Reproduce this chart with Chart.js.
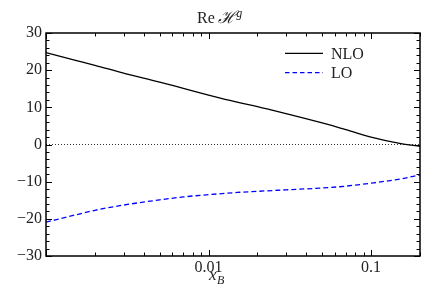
<!DOCTYPE html>
<html>
<head>
<meta charset="utf-8">
<script src="https://cdn.jsdelivr.net/npm/chart.js@4.4.0/dist/chart.umd.min.js"></script>
<style>
  html, body { margin: 0; padding: 0; background: #fff; }
  #wrap { width: 442px; height: 290px; }
</style>
</head>
<body>
<div id="wrap"><canvas id="c" width="442" height="290"></canvas></div>
<script>
// ---- data ----
const xB = [0.001, 0.0015, 0.002, 0.003, 0.005, 0.007, 0.01, 0.015, 0.02, 0.03, 0.05, 0.07, 0.1, 0.15, 0.2];
const nloValues = [24.7, 22.7, 21.3, 19.2, 16.8, 15.1, 13.3, 11.4, 10.2, 8.3, 5.8, 4.0, 2.0, 0.3, -0.5];
const loValues = [-20.9, -19.0, -17.7, -16.3, -14.9, -14.1, -13.5, -12.9, -12.6, -12.2, -11.7, -11.2, -10.4, -9.3, -8.2];
const xTickLabels = [0.01, 0.1];
const yTickValues = [-30, -20, -10, 0, 10, 20, 30];
const seriesNames = ['NLO', 'LO'];

const SERIF = '"Liberation Serif", "DejaVu Serif", serif';
const TXT = '#222';

function pts(ys) { return xB.map((x, i) => ({ x: x, y: ys[i] })); }

const framePlugin = {
  id: 'frame',
  afterDraw(chart) {
    const ctx = chart.ctx, a = chart.chartArea;
    const xs = chart.scales.x, ys = chart.scales.y;
    ctx.save();
    // zero line (dotted)
    ctx.strokeStyle = '#000';
    ctx.lineWidth = 0.8;
    ctx.setLineDash([1, 2]);
    const y0 = ys.getPixelForValue(0);
    ctx.beginPath(); ctx.moveTo(a.left, y0); ctx.lineTo(a.right, y0); ctx.stroke();
    ctx.setLineDash([]);
    // ticks x (log minors)
    ctx.lineWidth = 1;
    const decades = [0.001, 0.01, 0.1];
    decades.forEach(d => {
      for (let m = 1; m <= 9; m++) {
        const v = d * m;
        if (v < xs.min - 1e-12 || v > xs.max + 1e-12) continue;
        const px = Math.round(xs.getPixelForValue(v)) + 0.5;
        const len = m === 1 ? 6 : 3.5;
        ctx.beginPath();
        ctx.moveTo(px, a.bottom); ctx.lineTo(px, a.bottom - len);
        ctx.moveTo(px, a.top); ctx.lineTo(px, a.top + len);
        ctx.stroke();
      }
    });
    // ticks y
    for (let v = -30; v <= 30; v += 2) {
      const py = Math.round(ys.getPixelForValue(v)) + 0.5;
      const len = (v % 10 === 0) ? 6 : 3.5;
      ctx.beginPath();
      ctx.moveTo(a.left, py); ctx.lineTo(a.left + len, py);
      ctx.moveTo(a.right, py); ctx.lineTo(a.right - len, py);
      ctx.stroke();
    }
    // frame
    ctx.lineWidth = 1.5;
    ctx.strokeRect(a.left, a.top, a.right - a.left, a.bottom - a.top);

    // legend
    const lx0 = a.left + 239, lx1 = a.left + 277, tx = a.left + 285;
    const ly1 = 53.3, ly2 = 72.7;
    ctx.lineWidth = 1.3;
    ctx.strokeStyle = '#000';
    ctx.beginPath(); ctx.moveTo(lx0, ly1); ctx.lineTo(lx1, ly1); ctx.stroke();
    ctx.strokeStyle = '#0000ff';
    ctx.setLineDash([4.5, 3]);
    ctx.beginPath(); ctx.moveTo(lx0, ly2); ctx.lineTo(lx1, ly2); ctx.stroke();
    ctx.setLineDash([]);
    ctx.fillStyle = TXT;
    ctx.font = '16px ' + SERIF;
    ctx.textBaseline = 'middle';
    ctx.textAlign = 'left';
    ctx.fillText(seriesNames[0], tx, ly1 + 1);
    ctx.fillText(seriesNames[1], tx, ly2 + 1);

    // title: Re H^g
    ctx.textBaseline = 'alphabetic';
    let x = 197;
    ctx.font = '16px ' + SERIF;
    ctx.fillText('Re', x, 23);
    x += ctx.measureText('Re').width + 3;
    ctx.font = 'italic 17px ' + SERIF;
    ctx.fillText('\u210B', x, 23);
    x += ctx.measureText('\u210B').width + 0.5;
    ctx.font = 'italic 12px ' + SERIF;
    ctx.fillText('g', x, 17);

    // x axis title: x_B
    ctx.font = 'italic 17px ' + SERIF;
    ctx.fillText('x', 209, 280);
    const w = ctx.measureText('x').width;
    ctx.font = 'italic 12px ' + SERIF;
    ctx.fillText('B', 209 + w + 0.5, 284);
    ctx.restore();
  }
};

new Chart(document.getElementById('c'), {
  type: 'line',
  data: {
    datasets: [
      { label: seriesNames[0], data: pts(nloValues), borderColor: '#000', borderWidth: 1.3,
        pointRadius: 0, fill: false, cubicInterpolationMode: 'monotone' },
      { label: seriesNames[1], data: pts(loValues), borderColor: '#0000ff', borderWidth: 1.3,
        borderDash: [5, 3], pointRadius: 0, fill: false, cubicInterpolationMode: 'monotone' }
    ]
  },
  options: {
    responsive: false,
    animation: false,
    events: [],
    layout: { padding: { top: 33, right: 22, left: 0, bottom: 0 } },
    plugins: { legend: { display: false }, title: { display: false }, tooltip: { enabled: false } },
    scales: {
      x: {
        type: 'logarithmic', min: 0.001, max: 0.2,
        grid: { display: false, drawTicks: false }, border: { display: false },
        afterFit(s) { s.height = 34; },
        afterBuildTicks(s) { s.ticks = xTickLabels.map(v => ({ value: v })); },
        ticks: {
          autoSkip: false, maxRotation: 0, padding: 2, color: TXT,
          font: { family: SERIF, size: 16 },
          callback: (v) => String(v)
        }
      },
      y: {
        type: 'linear', min: -30, max: 30,
        grid: { display: false, drawTicks: false }, border: { display: false },
        afterFit(s) { s.width = 46; },
        afterBuildTicks(s) { s.ticks = yTickValues.map(v => ({ value: v })); },
        ticks: {
          padding: 4, color: TXT,
          font: { family: SERIF, size: 16 },
          callback: (v) => (v < 0 ? '\u2212' + Math.abs(v) : String(v))
        }
      }
    }
  },
  plugins: [framePlugin]
});
</script>
</body>
</html>
